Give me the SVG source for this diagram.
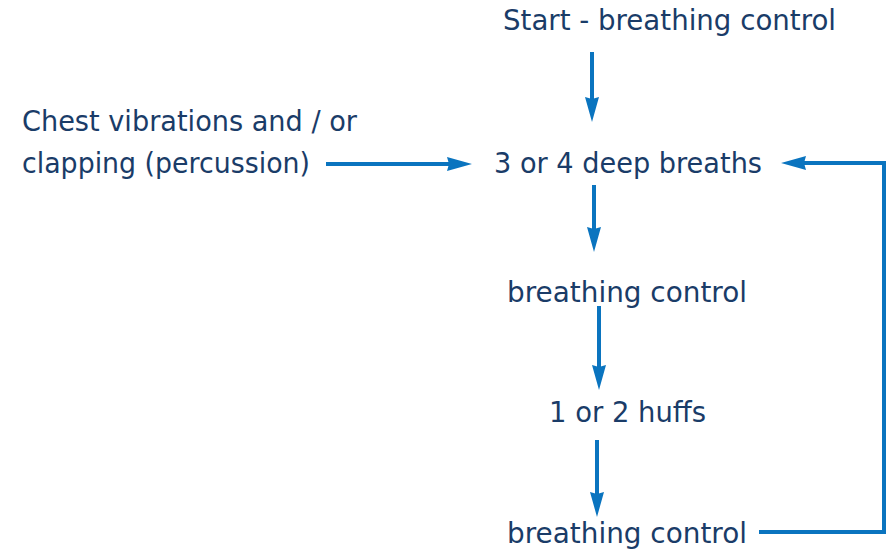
<svg xmlns="http://www.w3.org/2000/svg" width="888" height="550" viewBox="0 0 888 550">
<defs>
<style>
text{font-family:"DejaVu Sans","Open Sans",sans-serif;font-size:27.5px;fill:#1a3c68;}
.c{fill:none;stroke:#0a74bf;stroke-width:4;}
.h{fill:#0a74bf;}
</style>
</defs>
<rect width="888" height="550" fill="#ffffff"/>
<g id="n-start"><text x="503" y="30" textLength="333" lengthAdjust="spacingAndGlyphs">Start - breathing control</text></g>
<g id="n-chest"><text x="22" y="131" textLength="335" lengthAdjust="spacingAndGlyphs">Chest vibrations and / or</text><text x="22" y="173" textLength="288" lengthAdjust="spacingAndGlyphs">clapping (percussion)</text></g>
<g id="n-deep"><text x="494" y="173" textLength="268" lengthAdjust="spacingAndGlyphs">3 or 4 deep breaths</text></g>
<g id="n-bc1"><text x="507" y="302" textLength="240" lengthAdjust="spacingAndGlyphs">breathing control</text></g>
<g id="n-huffs"><text x="549" y="422" textLength="157" lengthAdjust="spacingAndGlyphs">1 or 2 huffs</text></g>
<g id="n-bc2"><text x="507" y="543" textLength="240" lengthAdjust="spacingAndGlyphs">breathing control</text></g>
<g id="connectors">
<path class="c" d="M592,52 V99"/>
<path class="h" d="M585,97 L592,99 L599,97 L592,122 Z"/>
<path class="c" d="M594,185 V229"/>
<path class="h" d="M587,227 L594,229 L601,227 L594,252 Z"/>
<path class="c" d="M599,306 V367"/>
<path class="h" d="M592,365 L599,367 L606,365 L599,390 Z"/>
<path class="c" d="M597,440 V494"/>
<path class="h" d="M590,492 L597,494 L604,492 L597,517 Z"/>
<path class="c" d="M326,164 H449"/>
<path class="h" d="M447,157 L449,164 L447,171 L472,164 Z"/>
<path class="c" d="M759,532 H884 V163 H804"/>
<path class="h" d="M806,156 L804,163 L806,170 L781,163 Z"/>
</g>
</svg>
